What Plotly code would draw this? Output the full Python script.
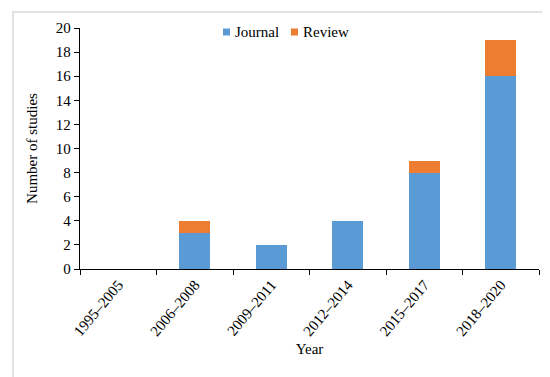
import plotly.graph_objects as go

categories = ["1995–2005", "2006–2008", "2009–2011", "2012–2014", "2015–2017", "2018–2020"]
journal = [0, 3, 2, 4, 8, 16]
review = [0, 1, 0, 0, 1, 3]
y_ticks = list(range(0, 21, 2))
series_names = ["Journal", "Review"]
series_colors = ["#5B9BD5", "#ED7D31"]

FONT = "Liberation Serif, Times New Roman, serif"

fig = go.Figure()
for name, vals, col in zip(series_names, [journal, review], series_colors):
    fig.add_trace(go.Bar(x=categories, y=vals, name=name, marker_color=col,
                         marker_line_width=0, width=0.4, showlegend=False))

L, R, T, B = 72, 19, 20, 116
W, H = 550, 377
pw, ph = W - L - R, H - T - B


def px(x):
    return (x - L) / pw


def py(y):
    return (H - B - y) / ph


# legend drawn as squares + text to mimic the compact original legend
legend_x = [215, 283]
shapes = [dict(type="rect", xref="paper", yref="paper",
               x0=px(5), x1=px(545), y0=py(372), y1=py(4),
               line=dict(color="#d9d9d9", width=1.5), fillcolor="rgba(0,0,0,0)",
               layer="below")]
annotations = []
for lx, name, col in zip(legend_x, series_names, series_colors):
    shapes.append(dict(type="rect", xref="paper", yref="paper",
                       x0=px(lx), x1=px(lx + 7), y0=py(27.5), y1=py(20.5),
                       line=dict(width=0), fillcolor=col))
    annotations.append(dict(xref="paper", yref="paper", x=px(lx + 10), y=py(24),
                            xanchor="left", yanchor="middle", showarrow=False,
                            text=name, font=dict(family=FONT, size=15, color="black")))

fig.update_layout(
    barmode="stack",
    width=W, height=H,
    margin=dict(l=L, r=R, t=T, b=B),
    paper_bgcolor="white", plot_bgcolor="white",
    font=dict(family=FONT, size=15, color="black"),
    showlegend=False,
    xaxis=dict(
        title=dict(text="Year", font=dict(size=15), standoff=5),
        showline=True, linecolor="black", linewidth=1.4,
        ticks="outside", ticklen=5, tickcolor="black", tickson="boundaries",
        tickangle=-50, tickfont=dict(size=15), showgrid=False,
    ),
    yaxis=dict(
        title=dict(text="Number of studies", font=dict(size=15), standoff=14),
        range=[0, 20], tickvals=y_ticks,
        showline=True, linecolor="black", linewidth=1.3,
        ticks="outside", ticklen=5, tickcolor="black",
        tickfont=dict(size=15), showgrid=False, zeroline=False,
    ),
    shapes=shapes,
    annotations=annotations,
)

fig.write_html("out.html")
